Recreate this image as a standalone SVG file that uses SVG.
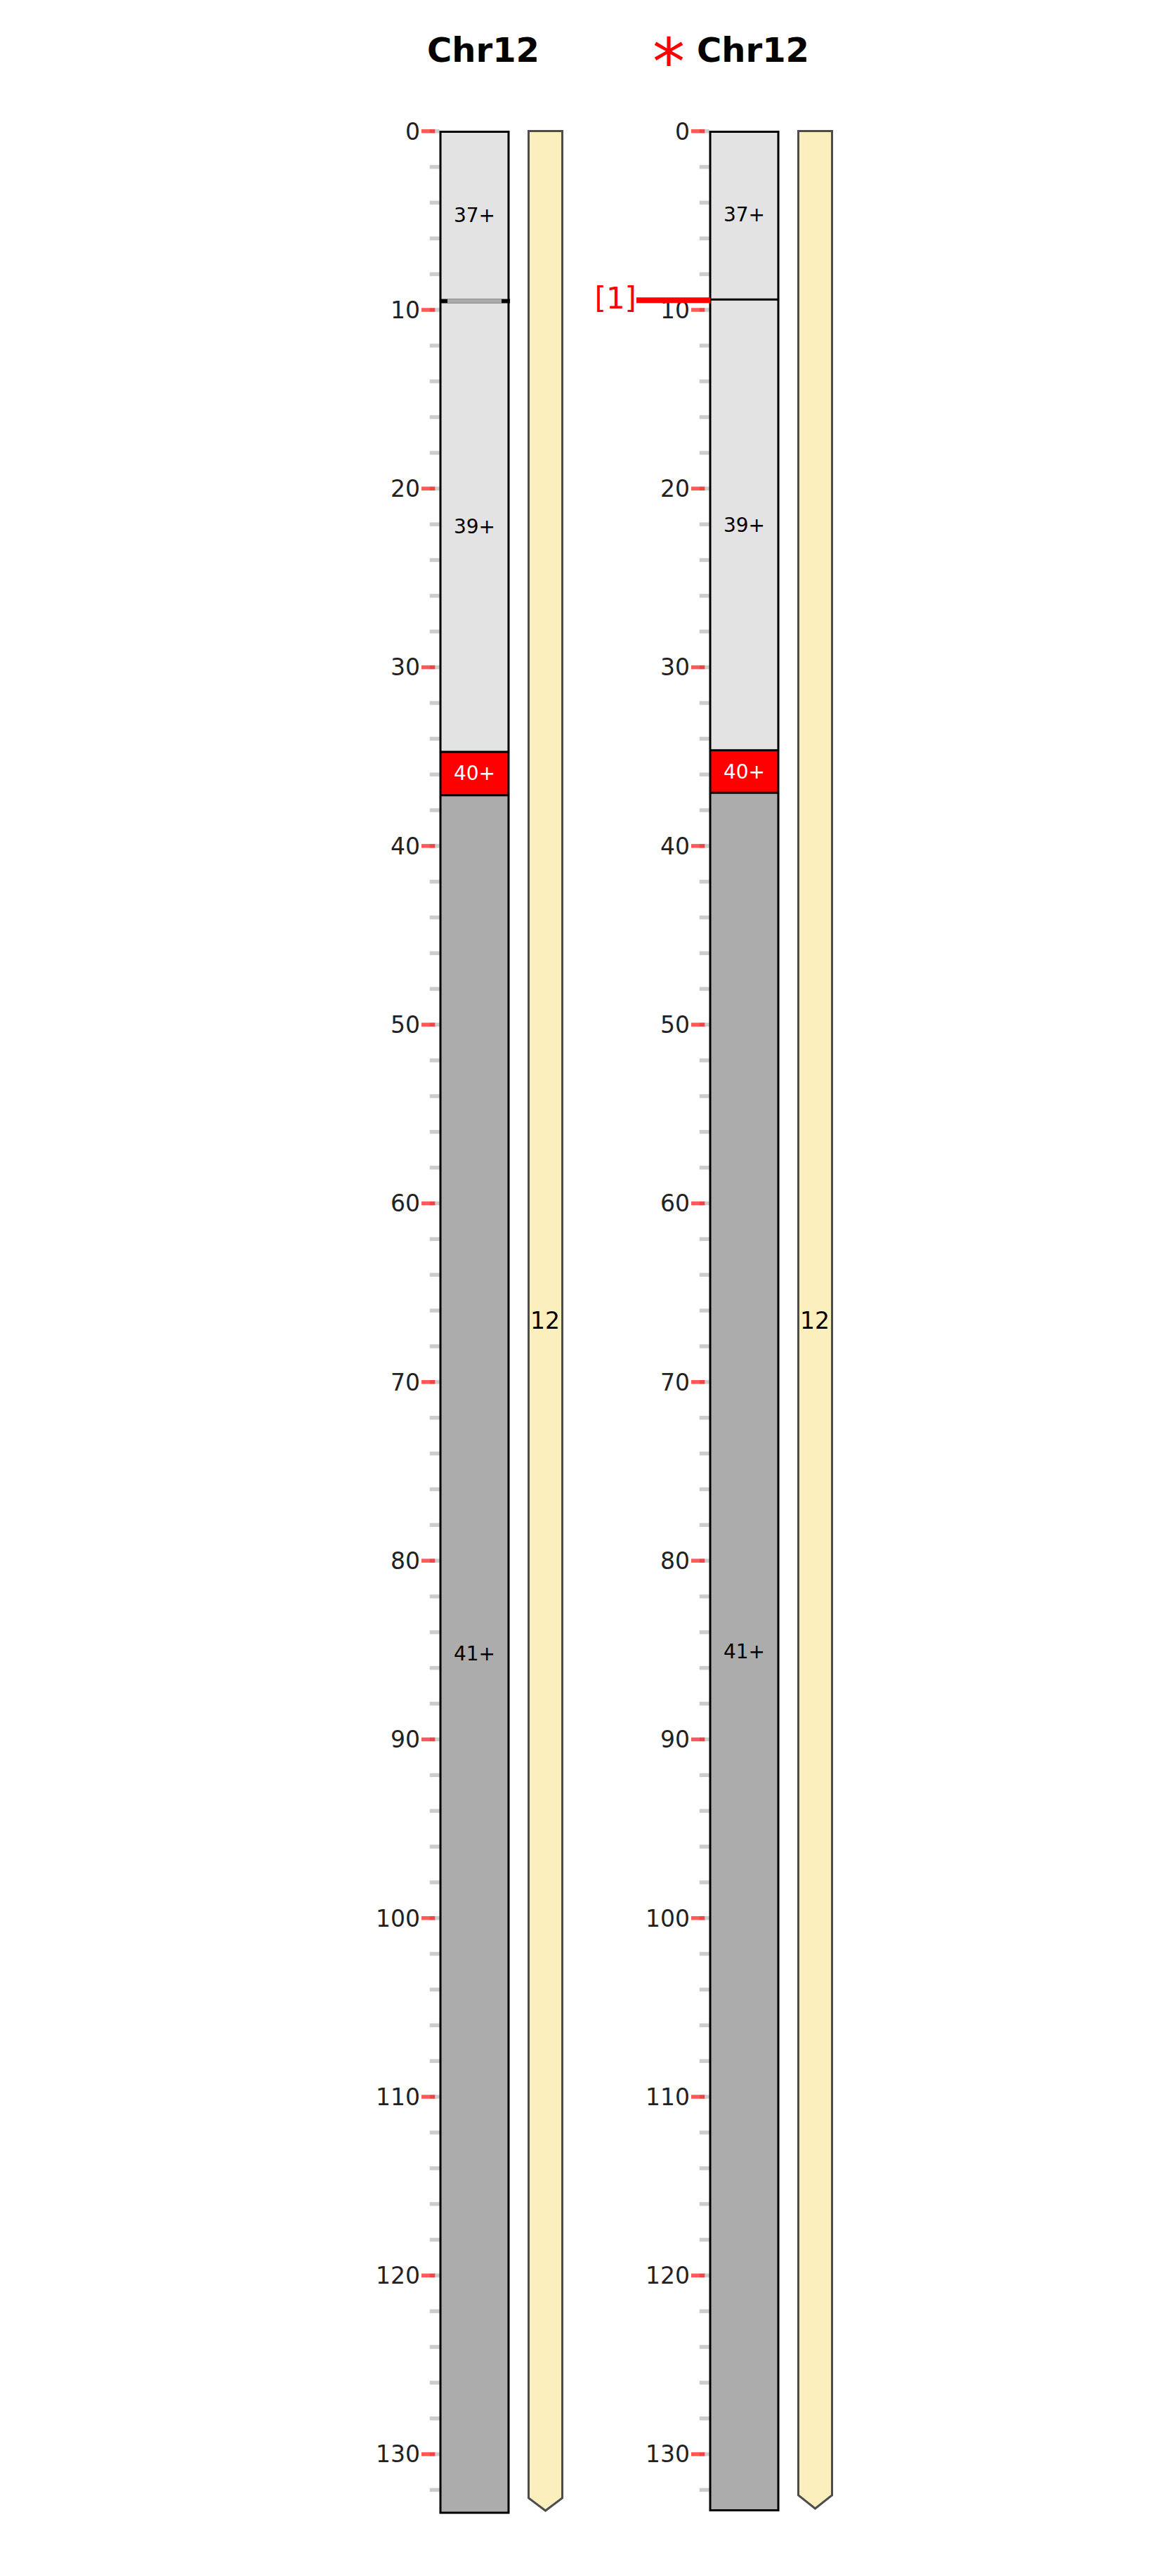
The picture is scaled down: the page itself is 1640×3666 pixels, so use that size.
<svg xmlns="http://www.w3.org/2000/svg" xmlns:xlink="http://www.w3.org/1999/xlink" width="1640" height="3666" viewBox="0 0 1640 3666">
<style>
.title{font-family:"DejaVu Sans",sans-serif;font-weight:bold;font-size:48px;fill:#000;text-anchor:middle}
.tl{font-family:"DejaVu Sans",sans-serif;font-size:33px;fill:#222;text-anchor:end}
.bl{font-family:"DejaVu Sans",sans-serif;font-size:28px;fill:#000;text-anchor:middle}
.blw{font-family:"DejaVu Sans",sans-serif;font-size:28px;fill:#fff;text-anchor:middle}
.yl{font-family:"DejaVu Sans",sans-serif;font-size:33px;fill:#000;text-anchor:middle}
.light{fill:#e3e3e3}
.dark{fill:#acacac}
.cen{fill:#ff0000}
.outline{fill:none;stroke:#000;stroke-width:3}
.sep{stroke:#000;stroke-width:3}
.yel{fill:#fcefbe;stroke:#4d4d4d;stroke-width:3;stroke-linejoin:miter}
</style>
<defs>
<rect id="mn" x="0" y="-2.75" width="14" height="5.5" fill="#cccccc"/>
<rect id="mj" x="0" y="-2.75" width="19.3" height="5.5" fill="#ff0000" fill-opacity="0.65"/>
</defs>
<rect x="0" y="0" width="1640" height="3666" fill="#ffffff"/>

<g id="title-left"><text class="title" x="688" y="88">Chr12</text></g>
<g id="title-right">
<text x="952" y="121" font-family="DejaVu Sans, sans-serif" font-size="92" fill="#ff0000" text-anchor="middle">*</text>
<text class="title" x="1072" y="88">Chr12</text>
</g>

<g id="ruler-left">
<use href="#mn" x="611.7" y="186.7"/><use href="#mn" x="611.7" y="237.56"/><use href="#mn" x="611.7" y="288.42"/><use href="#mn" x="611.7" y="339.28"/><use href="#mn" x="611.7" y="390.14"/><use href="#mn" x="611.7" y="441"/><use href="#mn" x="611.7" y="491.86"/><use href="#mn" x="611.7" y="542.72"/><use href="#mn" x="611.7" y="593.58"/><use href="#mn" x="611.7" y="644.44"/><use href="#mn" x="611.7" y="695.3"/><use href="#mn" x="611.7" y="746.16"/><use href="#mn" x="611.7" y="797.02"/><use href="#mn" x="611.7" y="847.88"/><use href="#mn" x="611.7" y="898.74"/><use href="#mn" x="611.7" y="949.6"/><use href="#mn" x="611.7" y="1000.46"/><use href="#mn" x="611.7" y="1051.32"/><use href="#mn" x="611.7" y="1102.18"/><use href="#mn" x="611.7" y="1153.04"/><use href="#mn" x="611.7" y="1203.9"/><use href="#mn" x="611.7" y="1254.76"/><use href="#mn" x="611.7" y="1305.62"/><use href="#mn" x="611.7" y="1356.48"/><use href="#mn" x="611.7" y="1407.34"/><use href="#mn" x="611.7" y="1458.2"/><use href="#mn" x="611.7" y="1509.06"/><use href="#mn" x="611.7" y="1559.92"/><use href="#mn" x="611.7" y="1610.78"/><use href="#mn" x="611.7" y="1661.64"/><use href="#mn" x="611.7" y="1712.5"/><use href="#mn" x="611.7" y="1763.36"/><use href="#mn" x="611.7" y="1814.22"/><use href="#mn" x="611.7" y="1865.08"/><use href="#mn" x="611.7" y="1915.94"/><use href="#mn" x="611.7" y="1966.8"/><use href="#mn" x="611.7" y="2017.66"/><use href="#mn" x="611.7" y="2068.52"/><use href="#mn" x="611.7" y="2119.38"/><use href="#mn" x="611.7" y="2170.24"/><use href="#mn" x="611.7" y="2221.1"/><use href="#mn" x="611.7" y="2271.96"/><use href="#mn" x="611.7" y="2322.82"/><use href="#mn" x="611.7" y="2373.68"/><use href="#mn" x="611.7" y="2424.54"/><use href="#mn" x="611.7" y="2475.4"/><use href="#mn" x="611.7" y="2526.26"/><use href="#mn" x="611.7" y="2577.12"/><use href="#mn" x="611.7" y="2627.98"/><use href="#mn" x="611.7" y="2678.84"/><use href="#mn" x="611.7" y="2729.7"/><use href="#mn" x="611.7" y="2780.56"/><use href="#mn" x="611.7" y="2831.42"/><use href="#mn" x="611.7" y="2882.28"/><use href="#mn" x="611.7" y="2933.14"/><use href="#mn" x="611.7" y="2984"/><use href="#mn" x="611.7" y="3034.86"/><use href="#mn" x="611.7" y="3085.72"/><use href="#mn" x="611.7" y="3136.58"/><use href="#mn" x="611.7" y="3187.44"/><use href="#mn" x="611.7" y="3238.3"/><use href="#mn" x="611.7" y="3289.16"/><use href="#mn" x="611.7" y="3340.02"/><use href="#mn" x="611.7" y="3390.88"/><use href="#mn" x="611.7" y="3441.74"/><use href="#mn" x="611.7" y="3492.6"/><use href="#mn" x="611.7" y="3543.46"/>
<use href="#mj" x="600" y="186.7"/><use href="#mj" x="600" y="441"/><use href="#mj" x="600" y="695.3"/><use href="#mj" x="600" y="949.6"/><use href="#mj" x="600" y="1203.9"/><use href="#mj" x="600" y="1458.2"/><use href="#mj" x="600" y="1712.5"/><use href="#mj" x="600" y="1966.8"/><use href="#mj" x="600" y="2221.1"/><use href="#mj" x="600" y="2475.4"/><use href="#mj" x="600" y="2729.7"/><use href="#mj" x="600" y="2984"/><use href="#mj" x="600" y="3238.3"/><use href="#mj" x="600" y="3492.6"/>
<text class="tl" x="598" y="198.5">0</text>
<text class="tl" x="598" y="452.8">10</text>
<text class="tl" x="598" y="707.1">20</text>
<text class="tl" x="598" y="961.4">30</text>
<text class="tl" x="598" y="1215.7">40</text>
<text class="tl" x="598" y="1470">50</text>
<text class="tl" x="598" y="1724.3">60</text>
<text class="tl" x="598" y="1978.6">70</text>
<text class="tl" x="598" y="2232.9">80</text>
<text class="tl" x="598" y="2487.2">90</text>
<text class="tl" x="598" y="2741.5">100</text>
<text class="tl" x="598" y="2995.8">110</text>
<text class="tl" x="598" y="3250.1">120</text>
<text class="tl" x="598" y="3504.4">130</text>
</g>

<g id="ruler-right">
<use href="#mn" x="995.7" y="186.7"/><use href="#mn" x="995.7" y="237.56"/><use href="#mn" x="995.7" y="288.42"/><use href="#mn" x="995.7" y="339.28"/><use href="#mn" x="995.7" y="390.14"/><use href="#mn" x="995.7" y="441"/><use href="#mn" x="995.7" y="491.86"/><use href="#mn" x="995.7" y="542.72"/><use href="#mn" x="995.7" y="593.58"/><use href="#mn" x="995.7" y="644.44"/><use href="#mn" x="995.7" y="695.3"/><use href="#mn" x="995.7" y="746.16"/><use href="#mn" x="995.7" y="797.02"/><use href="#mn" x="995.7" y="847.88"/><use href="#mn" x="995.7" y="898.74"/><use href="#mn" x="995.7" y="949.6"/><use href="#mn" x="995.7" y="1000.46"/><use href="#mn" x="995.7" y="1051.32"/><use href="#mn" x="995.7" y="1102.18"/><use href="#mn" x="995.7" y="1153.04"/><use href="#mn" x="995.7" y="1203.9"/><use href="#mn" x="995.7" y="1254.76"/><use href="#mn" x="995.7" y="1305.62"/><use href="#mn" x="995.7" y="1356.48"/><use href="#mn" x="995.7" y="1407.34"/><use href="#mn" x="995.7" y="1458.2"/><use href="#mn" x="995.7" y="1509.06"/><use href="#mn" x="995.7" y="1559.92"/><use href="#mn" x="995.7" y="1610.78"/><use href="#mn" x="995.7" y="1661.64"/><use href="#mn" x="995.7" y="1712.5"/><use href="#mn" x="995.7" y="1763.36"/><use href="#mn" x="995.7" y="1814.22"/><use href="#mn" x="995.7" y="1865.08"/><use href="#mn" x="995.7" y="1915.94"/><use href="#mn" x="995.7" y="1966.8"/><use href="#mn" x="995.7" y="2017.66"/><use href="#mn" x="995.7" y="2068.52"/><use href="#mn" x="995.7" y="2119.38"/><use href="#mn" x="995.7" y="2170.24"/><use href="#mn" x="995.7" y="2221.1"/><use href="#mn" x="995.7" y="2271.96"/><use href="#mn" x="995.7" y="2322.82"/><use href="#mn" x="995.7" y="2373.68"/><use href="#mn" x="995.7" y="2424.54"/><use href="#mn" x="995.7" y="2475.4"/><use href="#mn" x="995.7" y="2526.26"/><use href="#mn" x="995.7" y="2577.12"/><use href="#mn" x="995.7" y="2627.98"/><use href="#mn" x="995.7" y="2678.84"/><use href="#mn" x="995.7" y="2729.7"/><use href="#mn" x="995.7" y="2780.56"/><use href="#mn" x="995.7" y="2831.42"/><use href="#mn" x="995.7" y="2882.28"/><use href="#mn" x="995.7" y="2933.14"/><use href="#mn" x="995.7" y="2984"/><use href="#mn" x="995.7" y="3034.86"/><use href="#mn" x="995.7" y="3085.72"/><use href="#mn" x="995.7" y="3136.58"/><use href="#mn" x="995.7" y="3187.44"/><use href="#mn" x="995.7" y="3238.3"/><use href="#mn" x="995.7" y="3289.16"/><use href="#mn" x="995.7" y="3340.02"/><use href="#mn" x="995.7" y="3390.88"/><use href="#mn" x="995.7" y="3441.74"/><use href="#mn" x="995.7" y="3492.6"/><use href="#mn" x="995.7" y="3543.46"/>
<use href="#mj" x="984" y="186.7"/><use href="#mj" x="984" y="441"/><use href="#mj" x="984" y="695.3"/><use href="#mj" x="984" y="949.6"/><use href="#mj" x="984" y="1203.9"/><use href="#mj" x="984" y="1458.2"/><use href="#mj" x="984" y="1712.5"/><use href="#mj" x="984" y="1966.8"/><use href="#mj" x="984" y="2221.1"/><use href="#mj" x="984" y="2475.4"/><use href="#mj" x="984" y="2729.7"/><use href="#mj" x="984" y="2984"/><use href="#mj" x="984" y="3238.3"/><use href="#mj" x="984" y="3492.6"/>
<text class="tl" x="982" y="198.5">0</text>
<text class="tl" x="982" y="452.8">10</text>
<text class="tl" x="982" y="707.1">20</text>
<text class="tl" x="982" y="961.4">30</text>
<text class="tl" x="982" y="1215.7">40</text>
<text class="tl" x="982" y="1470">50</text>
<text class="tl" x="982" y="1724.3">60</text>
<text class="tl" x="982" y="1978.6">70</text>
<text class="tl" x="982" y="2232.9">80</text>
<text class="tl" x="982" y="2487.2">90</text>
<text class="tl" x="982" y="2741.5">100</text>
<text class="tl" x="982" y="2995.8">110</text>
<text class="tl" x="982" y="3250.1">120</text>
<text class="tl" x="982" y="3504.4">130</text>
</g>

<g id="chr-left">
<rect class="light" x="627" y="187.5" width="97" height="241"/>
<rect class="light" x="627" y="428.5" width="97" height="641.5"/>
<rect class="cen" x="627" y="1070" width="97" height="61.7"/>
<rect class="dark" x="627" y="1131.7" width="97" height="2444.3"/>
<rect x="626" y="425.5" width="100" height="6" fill="#000"/>
<rect x="637" y="425.5" width="77" height="6" fill="#aaaaaa"/>
<line class="sep" x1="627" y1="1070" x2="724" y2="1070"/>
<line class="sep" x1="627" y1="1131.7" x2="724" y2="1131.7"/>
<rect class="outline" x="627" y="187.5" width="97" height="3388.5"/>
<text class="bl" x="675.5" y="315.7">37+</text>
<text class="bl" x="675.5" y="758.5">39+</text>
<text class="blw" x="675.5" y="1110">40+</text>
<text class="bl" x="675.5" y="2363">41+</text>
</g>

<g id="bar-left">
<polygon class="yel" points="752.5,186.5 800.5,186.5 800.5,3555 776.5,3573 752.5,3555"/>
<text class="yl" x="776" y="1891">12</text>
</g>

<g id="chr-right">
<rect class="light" x="1011" y="187.5" width="97" height="238.8"/>
<rect class="light" x="1011" y="426.3" width="97" height="641.4"/>
<rect class="cen" x="1011" y="1067.7" width="97" height="60.6"/>
<rect class="dark" x="1011" y="1128.3" width="97" height="2444.2"/>
<line class="sep" x1="1011" y1="426.3" x2="1108" y2="426.3"/>
<line class="sep" x1="1011" y1="1067.7" x2="1108" y2="1067.7"/>
<line class="sep" x1="1011" y1="1128.3" x2="1108" y2="1128.3"/>
<rect class="outline" x="1011" y="187.5" width="97" height="3385"/>
<text class="bl" x="1059.5" y="315">37+</text>
<text class="bl" x="1059.5" y="756.5">39+</text>
<text class="blw" x="1059.5" y="1108">40+</text>
<text class="bl" x="1059.5" y="2360">41+</text>
</g>

<g id="bar-right">
<polygon class="yel" points="1136.5,186.5 1184.5,186.5 1184.5,3551 1160.5,3570 1136.5,3551"/>
<text class="yl" x="1160" y="1891">12</text>
</g>

<g id="connectors">
<line x1="906" y1="427.2" x2="1011" y2="427.2" stroke="#ff0000" stroke-width="8"/>
</g>
<g id="marker-1"><text x="906" y="439" font-family="DejaVu Sans, sans-serif" font-size="42" fill="#ff0000" text-anchor="end">[1]</text></g>
</svg>
